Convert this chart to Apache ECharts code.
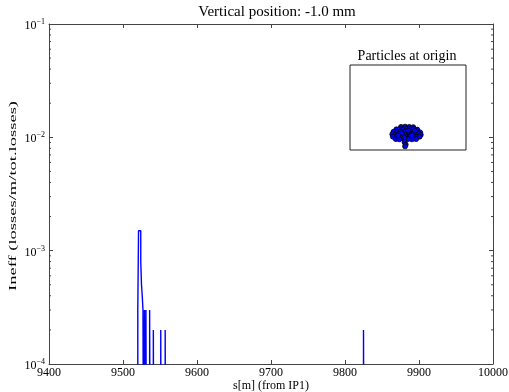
<!DOCTYPE html>
<html>
<head>
<meta charset="utf-8">
<script src="https://cdn.jsdelivr.net/npm/echarts@6/dist/echarts.min.js"></script>
<style>
  html, body { margin: 0; padding: 0; background: #fff; }
  #chart { width: 509px; height: 392px; }
</style>
</head>
<body>
<div id="chart"></div>
<script>
// Loss map along s, 1 m bins: left edge of each non-empty bin and its inefficiency
const binWidth = 1;
const lossS = [9520, 9521, 9522, 9523, 9524, 9525, 9526, 9527, 9529, 9531, 9536, 9541, 9551, 9557, 9825];
const lossV = [3e-4, 1.5e-3, 1.5e-3, 1.5e-3, 8e-4, 5e-4, 4e-4, 3e-4, 3e-4, 3e-4, 3e-4, 2e-4, 2e-4, 2e-4, 2e-4];

// Axis ranges and tick labels
const sRange = [9400, 10000];
const sTicks = [9400, 9500, 9600, 9700, 9800, 9900, 10000];
const yDecades = [-4, -3, -2, -1];

// Particle distribution at the origin (x, y in mm)
const partX = [-0.6, -0.25, 0.1, 0.45,
  -1.0, -0.7, -0.4, -0.1, 0.2, 0.5, 0.8,
  -1.25, -0.95, -0.65, -0.35, -0.05, 0.25, 0.55, 0.85, 1.05,
  -1.35, -1.05, -0.8, -0.5, -0.2, 0.1, 0.4, 0.7, 0.95, 1.1,
  -1.3, -1.0, -0.7, -0.45, -0.15, 0.15, 0.45, 0.75, 1.0,
  -1.05, -0.75, -0.35, 0.0, 0.35, 0.7,
  -0.55, 0.3, -0.85, 0.6, 0.0, -0.3,
  -0.3, -0.2, -0.25];
const partY = [-0.4, -0.38, -0.4, -0.42,
  -0.6, -0.58, -0.6, -0.57, -0.6, -0.58, -0.62,
  -0.8, -0.82, -0.78, -0.8, -0.82, -0.79, -0.8, -0.83, -0.85,
  -1.0, -1.02, -0.98, -1.0, -1.03, -0.99, -1.0, -1.02, -0.98, -1.05,
  -1.2, -1.22, -1.18, -1.2, -1.23, -1.2, -1.18, -1.22, -1.2,
  -1.4, -1.42, -1.38, -1.4, -1.42, -1.4,
  -0.9, -1.1, -1.1, -0.7, -0.7, -1.3,
  -1.65, -1.85, -2.0];

const zeroFloor = 1e-6; // empty bins sit below the log axis and get clipped

// Step outline of the histogram
const stepData = [[sRange[0], zeroFloor]];
for (let i = 0; i < lossS.length; i++) {
  const s = lossS[i];
  const prevEnd = i > 0 ? lossS[i - 1] + binWidth : null;
  if (prevEnd !== null && prevEnd < s) stepData.push([prevEnd, zeroFloor]);
  stepData.push([s, lossV[i]]);
  const end = s + binWidth;
  if (i === lossS.length - 1 || lossS[i + 1] > end) stepData.push([end, zeroFloor]);
}
stepData.push([sRange[1], zeroFloor]);

// Minor ticks at 2..9 x 10^n
const minorTicks = [];
for (let d = yDecades[0]; d < yDecades[yDecades.length - 1]; d++) {
  for (let k = 2; k <= 9; k++) minorTicks.push([sRange[0], k * Math.pow(10, d)]);
}

const particles = partX.map((x, i) => [x, partY[i]]);

const serif = 'Liberation Serif';
const axisColor = '#444';

const chart = echarts.init(document.getElementById('chart'));
chart.setOption({
  animation: false,
  backgroundColor: '#fff',
  graphic: [
    { type: 'text', x: 277, y: 12, silent: true,
      style: { text: 'Vertical position: -1.0 mm', font: '15px "Liberation Serif"', fill: '#000',
        align: 'center', verticalAlign: 'middle' } },
    { type: 'text', x: 407, y: 56, silent: true, z: 20,
      style: { text: 'Particles at origin', font: '14px "Liberation Serif"', fill: '#000',
        align: 'center', verticalAlign: 'middle' } },
    { type: 'text', x: 13, y: 196, rotation: Math.PI / 2, scaleX: 1.95, silent: true,
      style: { text: 'Ineff (losses/m/tot.losses)', font: '9.5px "Liberation Serif"', fill: '#000',
        align: 'center', verticalAlign: 'middle' } },
    { type: 'text', x: 271, y: 386, silent: true,
      style: { text: 's[m] (from IP1)', font: '12px "Liberation Serif"', fill: '#000',
        align: 'center', verticalAlign: 'middle' } }
  ],
  grid: [
    { left: 49, right: 16, top: 24, bottom: 28, show: false, containLabel: false, outerBoundsMode: 'none' },
    { left: 350, top: 65, width: 116, height: 85, show: true, borderColor: '#222', borderWidth: 1,
      backgroundColor: '#fff', z: 5, containLabel: false, outerBoundsMode: 'none' }
  ],
  xAxis: [
    { type: 'value', gridIndex: 0, min: sRange[0], max: sRange[1], interval: 100,
      axisLine: { show: true, lineStyle: { color: axisColor, width: 1 } },
      axisTick: { show: true, inside: true, length: 4, lineStyle: { color: axisColor } },
      axisLabel: { fontFamily: serif, fontSize: 12, color: '#000', margin: 3,
        formatter: v => (sTicks.indexOf(v) >= 0 ? String(v) : '') },
      splitLine: { show: false } },
    { type: 'value', gridIndex: 0, position: 'top', min: sRange[0], max: sRange[1], interval: 100,
      axisLine: { show: true, lineStyle: { color: axisColor, width: 1 } },
      axisTick: { show: true, inside: true, length: 4, lineStyle: { color: axisColor } },
      axisLabel: { show: false }, splitLine: { show: false } },
    { type: 'value', gridIndex: 1, min: -5, max: 5, show: false }
  ],
  yAxis: [
    { type: 'log', gridIndex: 0, logBase: 10, min: 1e-4, max: 1e-1,
      axisLine: { show: true, lineStyle: { color: axisColor, width: 1 } },
      axisTick: { show: true, inside: true, length: 4, lineStyle: { color: axisColor } },
      axisLabel: {
        margin: 4,
        formatter: v => '{b|10}{s|\u2212' + Math.abs(Math.round(Math.log10(v))) + '}',
        rich: {
          b: { fontFamily: serif, fontSize: 12, color: '#000', padding: [4, 0, 0, 0] },
          s: { fontFamily: serif, fontSize: 8, color: '#000', padding: [0, 0, 4, 0] }
        }
      },
      splitLine: { show: false } },
    { type: 'log', gridIndex: 0, logBase: 10, min: 1e-4, max: 1e-1, position: 'right',
      axisLine: { show: true, lineStyle: { color: axisColor, width: 1 } },
      axisTick: { show: true, inside: true, length: 4, lineStyle: { color: axisColor } },
      axisLabel: { show: false }, splitLine: { show: false } },
    { type: 'value', gridIndex: 1, min: -2.3, max: 4.7, show: false }
  ],
  series: [
    { type: 'line', xAxisIndex: 0, yAxisIndex: 0, data: stepData, step: 'end',
      showSymbol: false, symbol: 'none', clip: true,
      lineStyle: { color: '#0000ff', width: 1.4 } },
    { type: 'custom', xAxisIndex: 0, yAxisIndex: 0, data: minorTicks, silent: true,
      renderItem: (params, api) => {
        const v = api.value(1);
        const l = api.coord([sRange[0], v]);
        const r = api.coord([sRange[1], v]);
        const st = { stroke: axisColor, lineWidth: 1 };
        return { type: 'group', children: [
          { type: 'line', shape: { x1: l[0], y1: l[1], x2: l[0] + 2, y2: l[1] }, style: st },
          { type: 'line', shape: { x1: r[0], y1: r[1], x2: r[0] - 2, y2: r[1] }, style: st }
        ] };
      } },
    { type: 'scatter', xAxisIndex: 2, yAxisIndex: 2, data: particles, z: 10,
      symbolSize: 5, itemStyle: { color: '#0000ff', borderColor: '#000', borderWidth: 0.8, opacity: 1 } }
  ]
});
</script>
</body>
</html>
